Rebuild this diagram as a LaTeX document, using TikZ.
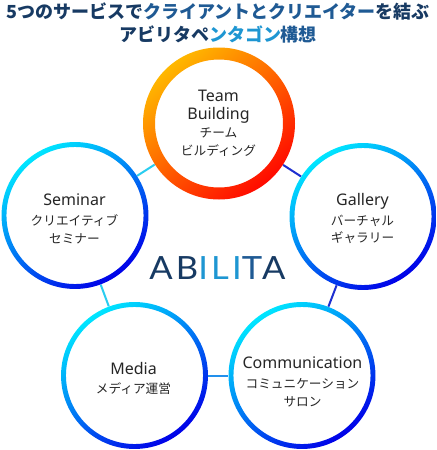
\documentclass[tikz,border=0pt]{standalone}
\usepackage{fontspec}
\setmainfont{Noto Sans}
\newfontfamily\jp{Noto Sans CJK JP}
\newfontfamily\abf[FakeStretch=1.08,LetterSpace=10]{Lato}
\definecolor{navy}{HTML}{173A63}
\definecolor{midb}{HTML}{1F5A94}
\definecolor{lightb}{HTML}{1E96D2}
\definecolor{cyanr}{HTML}{00E6FF}
\definecolor{bluer}{HTML}{0000E8}
\definecolor{amber}{HTML}{FFB800}
\definecolor{redr}{HTML}{FF0A00}
\definecolor{connA}{HTML}{2ACDF0}
\definecolor{connB}{HTML}{1E2FD0}
\definecolor{connC}{HTML}{2290EC}
\newcommand{\en}[1]{{\rmfamily\fontsize{12}{13}\selectfont #1}}
\begin{document}
\begin{tikzpicture}[x=0.75pt,y=-0.75pt,
  ring/.style={circle,inner sep=0pt,minimum size={147*0.75pt}},
  bigring/.style={circle,inner sep=0pt,minimum size={152*0.75pt}},
  conn/.style={line width=1.5pt},
  bluering/.style={even odd rule,left color=cyanr,right color=bluer,shading angle=35},
  orangering/.style={even odd rule,left color=amber,right color=redr,shading angle=40},
  txt/.style={inner sep=0pt,align=center,font=\jp\fontsize{9.5}{13.3}\selectfont,text=black!85},
  ttl/.style={inner sep=0pt,align=center,font=\jp\bfseries\fontsize{13.5}{16.9}\selectfont,text=navy},
  abl/.style={inner sep=0pt,font=\abf\fontsize{24}{26}\selectfont}]
\fill[white] (0,0) rectangle (436,450);
\useasboundingbox (0,0) rectangle (436,450);
% circles
\node[bigring] (team) at (219,123.5) {};
\node[ring] (sem) at (75,215.5) {};
\node[ring] (gal) at (363,216.5) {};
\node[ring] (med) at (134.5,375.5) {};
\node[ring] (com) at (302,375.5) {};
% connectors
\draw[conn,connA] (sem) -- (team);
\draw[conn,connB] (team) -- (gal);
\draw[conn,connA] (sem) -- (med);
\draw[conn,connB] (gal) -- (com);
\draw[conn,connC] (med) -- (com);
% rings
\shade[orangering] (team.center) circle[radius=57pt] circle[radius=48pt];
\shade[bluering] (sem.center) circle[radius=55.1pt] circle[radius=51.4pt];
\shade[bluering] (gal.center) circle[radius=55.1pt] circle[radius=51.4pt];
\shade[bluering] (med.center) circle[radius=55.1pt] circle[radius=51.4pt];
\shade[bluering] (com.center) circle[radius=55.1pt] circle[radius=51.4pt];
% texts
\node[txt] (teamt) at (218.5,123) {\en{Team}\\[0.2pt]\en{Building}\\[0.2pt]チーム\\ビルディング};
\node[txt] (semt) at (74.5,218.5) {\en{Seminar}\\[2pt]クリエイティブ\\セミナー};
\node[txt] (galt) at (362.5,218.5) {\en{Gallery}\\[1.6pt]バーチャル\\ギャラリー};
\node[txt] (medt) at (133.5,378) {\en{Media}\\[1pt]メディア運営};
\node[txt] (comt) at (302.5,382) {\en{Communication}\\[1.6pt]コミュニケーション\\サロン};
% title
\node[ttl] (title) at (218,23) {5つのサービスで\textcolor{midb}{クライアントとクリエイター}を結ぶ\\アビリタペ\textcolor{lightb}{ンタゴン}\textcolor{midb}{構想}};
% logo
\node[abl] (logo) at (217.5,268) {\textcolor{navy}{AB}\textcolor{lightb}{ILI}\textcolor{midb}{T}\textcolor{navy}{A}};
\end{tikzpicture}
\end{document}
